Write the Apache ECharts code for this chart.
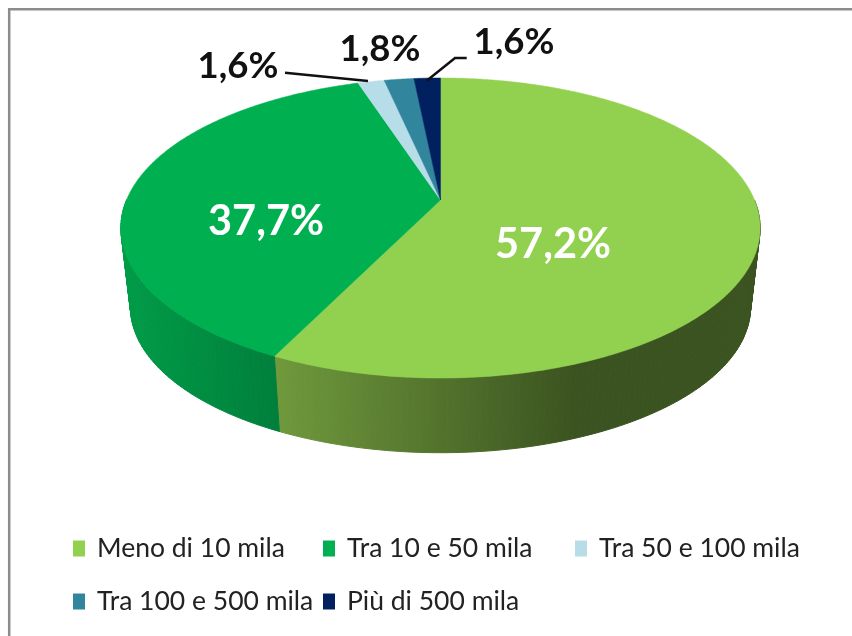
<!DOCTYPE html>
<html><head><meta charset="utf-8">
<style>html,body{margin:0;padding:0;background:#fff}#c{width:852px;height:636px}</style>
<script src="https://cdn.jsdelivr.net/npm/echarts@6/dist/echarts.min.js"></script>
</head><body><div id="c"></div>
<script>
const categories = ['Meno di 10 mila','Tra 10 e 50 mila','Tra 50 e 100 mila','Tra 100 e 500 mila','Più di 500 mila'];
const shares = [57.2,37.7,1.6,1.8,1.6];
const colors = ['#92d050','#00b050','#b7dde8','#31859c','#002060'];

// perspective projection of the pie disc
const P = {cx:440.5, a:314, b:144.8, k:0.1867, topY:200, botY:280, botS:0.97};
function proj(deg, bottom){
  const t = deg*Math.PI/180, u = Math.sin(t), v = -Math.cos(t), d = 1-P.k*v;
  const s = bottom ? P.botS : 1, y0 = bottom ? P.botY : P.topY;
  return [P.cx + s*P.a*u/d, y0 + s*P.b*v/d];
}
const total = shares.reduce((a,b)=>a+b,0);
function span(i){
  let c = 0; for(let j=0;j<i;j++) c += shares[j];
  return [c/total*360, (c+shares[i])/total*360];
}
// horizontal wall shading per slice: [xFrom, xTo, colorFrom, colorTo]
const wallShade = [
  [278,575,'#6f993c','#3b5320'],
  [121,278,'#009c48','#007f3b'],
  [300,500,'#7fa0a8','#7fa0a8'],
  [300,500,'#22606f','#22606f'],
  [300,500,'#001640','#001640']
];
function wallFill(i){
  const s = wallShade[i];
  return {type:'linear',x:s[0],y:0,x2:s[1],y2:0,global:true,colorStops:[{offset:0,color:s[2]},{offset:1,color:s[3]}]};
}
function renderWall(params, api){
  const i = params.dataIndex; api.value(0);
  const [a0,a1] = span(i), kids = [], step = 1, fill = wallFill(i);
  for(let d=a0; d<a1-1e-6; d+=step){
    const e = Math.min(a1,d+step), m=(d+e)/2;
    if(-Math.cos(m*Math.PI/180) < 0) continue;
    const pts = [proj(d),proj(e),proj(e,true),proj(d,true)];
    kids.push({type:'polygon',shape:{points:pts},style:{fill:fill,stroke:fill,lineWidth:1}});
  }
  return {type:'group',children:kids};
}
function renderTop(i){
  return function(params, api){
    api.value(0);
    const [a0,a1] = span(i), pts=[[P.cx,P.topY]];
    for(let d=a0; d<a1; d+=0.5) pts.push(proj(d));
    pts.push(proj(a1));
    return {type:'polygon',shape:{points:pts},style:{fill:colors[i],stroke:colors[i],lineWidth:0.5}};
  };
}
const fmt = v => v.toFixed(1).replace('.',',')+'%';
const labelPos = [[553,245,'#fff',41.5],[266,222,'#fff',41.5],[238,66,'#111',36.5],[380,49,'#111',36.5],[514,42,'#111',36.5]];
function renderLabel(params, api){
  const i = params.dataIndex, L = labelPos[i];
  return {type:'text',z2:10,style:{text:fmt(api.value(0)),x:L[0],y:L[1],fill:L[2],align:'center',verticalAlign:'middle',
    font:'bold '+L[3]+'px Lato, sans-serif'}};
}
const legendPos = [[73,548],[323,548],[575,548],[73,601],[323,601]];
const option = {
  animation:false,
  backgroundColor:'#fff',
  legend: categories.map((n,i)=>({
    data:[n], left:legendPos[i][0], top:legendPos[i][1]-13, orient:'horizontal', icon:'rect',
    itemWidth:12, itemHeight:16, itemGap:0, selectedMode:false, padding:0,
    textStyle:{fontFamily:'Lato, sans-serif',fontSize:26.5,color:'#222',padding:[0,0,0,7]}
  })),
  graphic:[
    {type:'polyline',z:-1,shape:{points:[[9.2,640],[9.2,9.2],[860,9.2]]},style:{stroke:'#8c8c8c',lineWidth:2.5,fill:null}},
    {type:'polyline',z:20,shape:{points:[[285,72.7],[368,81]]},style:{stroke:'#111',lineWidth:2.5,fill:null}},
    {type:'polyline',z:20,shape:{points:[[466.7,58],[455,58],[426.7,80.7]]},style:{stroke:'#111',lineWidth:2.5,fill:null}}
  ],
  series:[
    {type:'custom',name:'walls',coordinateSystem:'none',silent:true,z:1,data:shares,renderItem:renderWall},
    ...categories.map((n,i)=>({type:'custom',name:n,coordinateSystem:'none',silent:true,z:2,
      itemStyle:{color:colors[i]},data:[shares[i]],renderItem:renderTop(i)})),
    {type:'custom',name:'labels',coordinateSystem:'none',silent:true,z:3,data:shares,renderItem:renderLabel}
  ]
};
echarts.init(document.getElementById('c'),null,{renderer:'canvas'}).setOption(option);
</script></body></html>
